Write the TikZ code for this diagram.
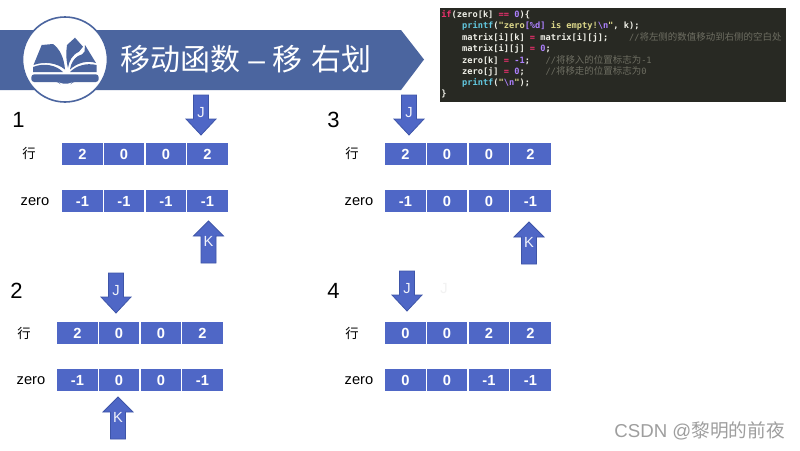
\documentclass[tikz,border=0pt]{standalone}
\usepackage{fontspec}
\setmainfont{Liberation Sans}
\newfontfamily\cjk{Noto Sans CJK SC}
\newfontfamily\codefont{DejaVu Sans Mono}
\definecolor{bannerblue}{HTML}{4B659F}
\definecolor{cellblue}{HTML}{4F67C6}
\definecolor{arrowedge}{HTML}{3E55A8}
\definecolor{codebg}{HTML}{282923}
\definecolor{cwhite}{HTML}{F0F0E8}
\definecolor{cpink}{HTML}{F0306F}
\definecolor{cblue}{HTML}{62C8E0}
\definecolor{cyellow}{HTML}{DDD88A}
\definecolor{cpurple}{HTML}{AE81FF}
\definecolor{cgray}{HTML}{6E6E62}
\tikzset{
  cellbox/.style={fill=cellblue,text=white,minimum width=30.3pt,minimum height=16.5pt,inner sep=0pt,font=\fontsize{11}{11}\selectfont\bfseries},
  rowlabel/.style={inner sep=0pt,font=\fontsize{11}{11}\selectfont},
  rowcjk/.style={inner sep=0pt,font=\cjk\fontsize{10}{10}\selectfont},
  numlabel/.style={inner sep=0pt,font=\fontsize{16.5}{16.5}\selectfont},
  pointer/.style={fill=cellblue,draw=arrowedge,line width=0.6pt},
  pointertext/.style={inner sep=0pt,text=white!92!cellblue,font=\fontsize{11}{11}\selectfont},
  codeline/.style={anchor=base west,inner sep=0pt,text=cwhite,font=\codefont\bfseries\fontsize{6.5}{6.5}\selectfont},
  bookshape/.style={fill=bannerblue,draw=none},
}
\newcommand{\cellrow}[7]{% name, x, y, four values
  \node[cellbox] (#1a) at (#2+20.5,#3) {#4};
  \node[cellbox] (#1b) at (#2+62,#3) {#5};
  \node[cellbox] (#1c) at (#2+104,#3) {#6};
  \node[cellbox] (#1d) at (#2+145.5,#3) {#7};
}
\newcommand{\jarrow}[3]{% centre x, top y, name
  \draw[pointer] (#1-7.5,#2) -- (#1+7.5,#2) -- (#1+7.5,#2+24) -- (#1+15,#2+24) -- (#1,#2+40) -- (#1-15,#2+24) -- (#1-7.5,#2+24) -- cycle;
  \node[pointertext] (#3) at (#1,#2+18) {J};
}
\newcommand{\karrow}[3]{% centre x, tip y, name
  \draw[pointer] (#1,#2) -- (#1+15,#2+15) -- (#1+7.5,#2+15) -- (#1+7.5,#2+42) -- (#1-7.5,#2+42) -- (#1-7.5,#2+15) -- (#1-15,#2+15) -- cycle;
  \node[pointertext] (#3) at (#1,#2+20) {K};
}
\newcommand{\cm}[1]{{\mdseries\color{cgray}#1}}
\newcommand{\cz}[1]{{\mdseries\color{cgray}\cjk\fontsize{7.1}{7.1}\selectfont #1}}
\newcommand{\tabs}[1]{\hspace{#1\dimexpr 3.913pt\relax}}
\begin{document}
\begin{tikzpicture}[x=0.75pt,y=-0.75pt]
\useasboundingbox (0,0) rectangle (800,450);
\fill[white] (0,0) rectangle (800,450);

% banner
\fill[bannerblue] (0,30) -- (401,30) -- (424,59.5) -- (401,90) -- (0,90) -- cycle;
\draw[fill=white,draw=bannerblue,line width=1.2pt] (65,59.5) circle (42.5);
% book
\fill[bookshape] (41.7,45) -- (53,44) .. controls (60,49) and (64,58) .. (65,69.5) .. controls (57,63) and (45,61) .. (33.5,65) -- cycle;
\fill[bookshape] (33,67) .. controls (44,62.5) and (56,65) .. (63,72) -- (33,72) -- cycle;
\fill[bookshape] (67,45) -- (75,37.7) -- (83,46.7) -- (79,51.7) .. controls (72,55) and (69,61) .. (68,68) .. controls (66,60) and (66,52) .. (67,45) -- cycle;
\fill[bookshape] (85,45) -- (96,63) .. controls (87,60) and (77,63) .. (70,69.5) .. controls (71,63) and (74,58.5) .. (78,56) .. controls (81,55) and (84,54) .. (84.5,51.5) -- cycle;
\fill[bookshape] (96.5,65) .. controls (86,62.5) and (76,66) .. (70,72) -- (96.5,72) -- cycle;
\fill[bookshape,rounded corners=2.2pt] (31.3,74.3) -- (98.7,74.3) -- (98.7,82) -- (72,82) -- (71,83.5) -- (60,83.5) -- (59,82) -- (31.3,82) -- cycle;
\node[anchor=west,inner sep=0pt,text=white,font=\cjk\fontsize{22.5}{22.5}\selectfont] (title) at (120,59) {移动函数\hspace{6pt}{\fontspec{Liberation Sans}–}\hspace{6pt}移\hspace{6.5pt}右划};

% code
\fill[codebg] (440,8) rectangle (786,102);
\node[codeline] (c1) at (441,17) {{\color{cpink}if}(zero[k] {\color{cpink}==} {\color{cpurple}0})\{};
\node[codeline] (c2) at (441,28.5) {\tabs{4}{\color{cblue}printf}({\color{cyellow}"zero}{\color{cpurple}[\%d]}{\color{cyellow}\ is empty!}{\color{cpurple}\textbackslash n}{\color{cyellow}"}, k);};
\node[codeline] (c3) at (441,40) {\tabs{4}matrix[i][k] {\color{cpink}=} matrix[i][j];\tabs{4}\cm{//}\cz{将左侧的数值移动到右侧的空白处}};
\node[codeline] (c4) at (441,51.5) {\tabs{4}matrix[i][j] {\color{cpink}=} {\color{cpurple}0};};
\node[codeline] (c5) at (441,63) {\tabs{4}zero[k] {\color{cpink}=} {\color{cpurple}-1};\tabs{3}\cm{//}\cz{将移入的位置标志为}\cm{-1}};
\node[codeline] (c6) at (441,74) {\tabs{4}zero[j] {\color{cpink}=} {\color{cpurple}0};\tabs{4}\cm{//}\cz{将移走的位置标志为}\cm{0}};
\node[codeline] (c7) at (441,85) {\tabs{4}{\color{cblue}printf}({\color{cyellow}"}{\color{cpurple}\textbackslash n}{\color{cyellow}"});};
\node[codeline] (c8) at (441,96) {\}};

% panel 1
\node[numlabel] (n1) at (18.5,120) {1};
\node[rowcjk] (l1) at (29,153) {行};
\node[rowlabel] (z1) at (35,202) {zero};
\cellrow{ra}{62}{154}{2}{0}{0}{2}
\cellrow{za}{62}{201}{-1}{-1}{-1}{-1}
\jarrow{201}{95}{ja}
\karrow{208.5}{221}{ka}

% panel 3
\node[numlabel] (n3) at (333.5,120) {3};
\node[rowcjk] (l3) at (352,153) {行};
\node[rowlabel] (z3) at (359,202) {zero};
\cellrow{rc}{385}{154}{2}{0}{0}{2}
\cellrow{zc}{385}{201}{-1}{0}{0}{-1}
\jarrow{409}{95}{jc}
\karrow{529}{222}{kc}

% panel 2
\node[numlabel] (n2) at (16.5,291) {2};
\node[rowcjk] (l2) at (24,333) {行};
\node[rowlabel] (z2) at (31,381) {zero};
\cellrow{rb}{57}{333}{2}{0}{0}{2}
\cellrow{zb}{57}{380}{-1}{0}{0}{-1}
\jarrow{116}{273}{jb}
\karrow{118}{397}{kb}

% panel 4
\node[numlabel] (n4) at (333.5,291) {4};
\node[rowcjk] (l4) at (352,333) {行};
\node[rowlabel] (z4) at (359,381) {zero};
\cellrow{rd}{385}{333}{0}{0}{2}{2}
\cellrow{zd}{385}{380}{0}{0}{-1}{-1}
\jarrow{407}{271}{jd}
\node[inner sep=0pt,text=black!5,font=\fontsize{11}{11}\selectfont] (ghost) at (444,289) {J};

% watermark
\node[anchor=east,inner sep=0pt,text=black!38,font=\cjk\fontsize{14}{14}\selectfont] (mark) at (785,431) {{\fontspec{Liberation Sans}CSDN @}黎明的前夜};
\end{tikzpicture}
\end{document}
